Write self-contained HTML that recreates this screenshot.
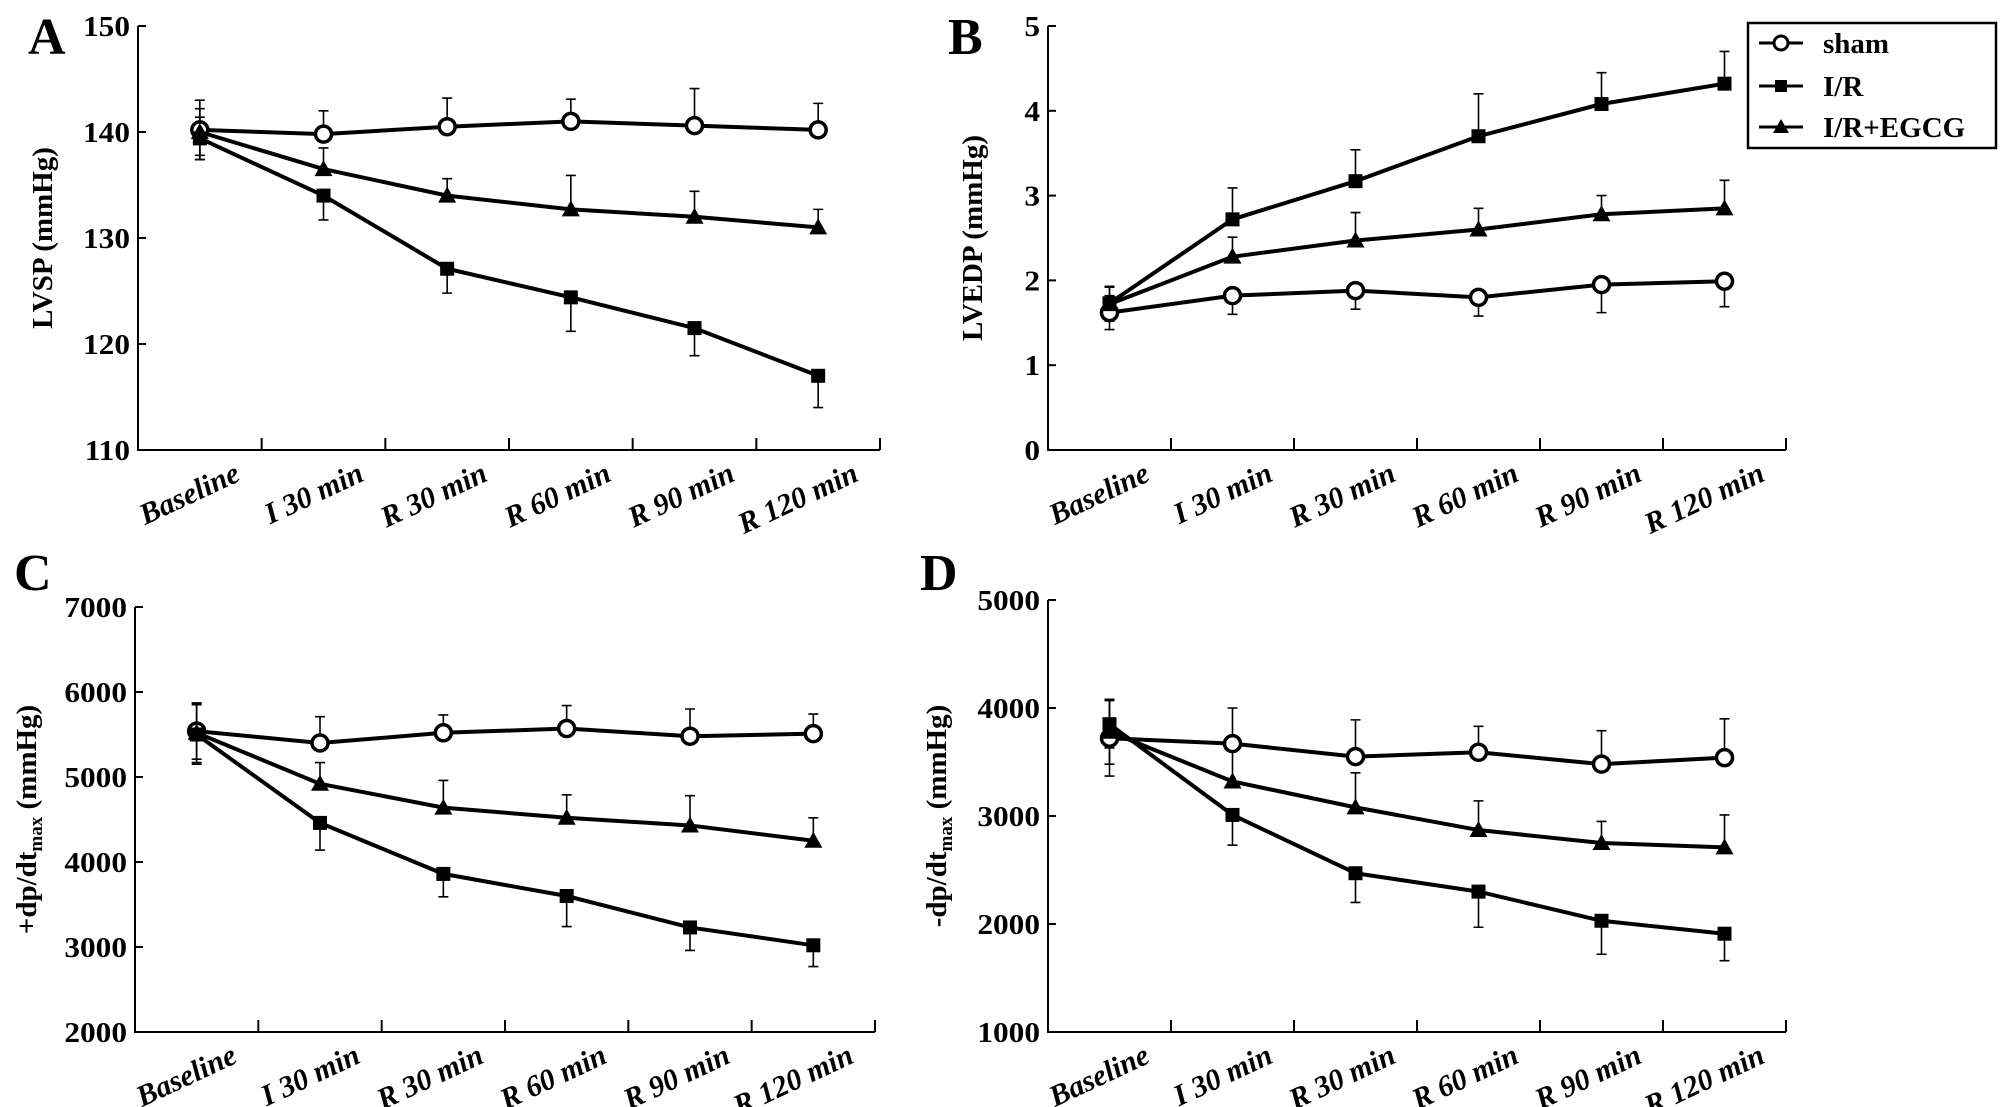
<!DOCTYPE html>
<html><head><meta charset="utf-8"><style>
body{margin:0;background:#fff}
svg{display:block}
text{font-family:"Liberation Serif",serif;font-weight:bold;fill:#000}
</style></head><body>
<svg id="chart" width="2008" height="1107" viewBox="0 0 2008 1107" xmlns="http://www.w3.org/2000/svg"></svg>
<script>
const categories=["Baseline","I 30 min","R 30 min","R 60 min","R 90 min","R 120 min"];
// Panel A LVSP
const aSham=[140.2,139.8,140.5,141,140.6,140.2];
const aShamErr=[2.8,2.2,2.7,2.1,3.5,2.5];
const aIR=[139.4,134,127.1,124.4,121.5,117];
const aIRErr=[2,2.3,2.3,3.2,2.6,3];
const aEG=[140,136.5,134,132.7,132,131];
const aEGErr=[2.2,2.0,1.6,3.2,2.4,1.7];
const aTicks=[110,120,130,140,150];
// Panel B LVEDP
const bSham=[1.62,1.82,1.88,1.80,1.95,1.99];
const bShamErr=[0.2,0.22,0.22,0.22,0.33,0.3];
const bIR=[1.73,2.72,3.17,3.70,4.08,4.32];
const bIRErr=[0.2,0.37,0.37,0.5,0.37,0.38];
const bEG=[1.72,2.28,2.47,2.6,2.78,2.85];
const bEGErr=[0.2,0.23,0.33,0.25,0.22,0.33];
const bTicks=[0,1,2,3,4,5];
// Panel C +dp/dt
const cSham=[5540,5400,5520,5570,5480,5510];
const cShamErr=[330,310,210,270,320,230];
const cIR=[5500,4460,3860,3600,3230,3020];
const cIRErr=[350,320,270,360,270,250];
const cEG=[5520,4920,4640,4520,4430,4250];
const cEGErr=[350,250,320,270,350,270];
const cTicks=[2000,3000,4000,5000,6000,7000];
// Panel D -dp/dt
const dSham=[3720,3670,3550,3590,3480,3540];
const dShamErr=[350,330,340,240,310,360];
const dIR=[3850,3010,2470,2300,2030,1910];
const dIRErr=[220,280,270,330,310,250];
const dEG=[3780,3320,3080,2870,2750,2710];
const dEGErr=[300,320,320,270,200,300];
const dTicks=[1000,2000,3000,4000,5000];

const NS="http://www.w3.org/2000/svg";
const svg=document.getElementById('chart');
function mk(tag,attrs,parent){const e=document.createElementNS(NS,tag);for(const k in attrs)e.setAttribute(k,attrs[k]);(parent||svg).appendChild(e);return e;}

function panel(cfg){
  const g=mk('g',{});
  
  
  const x0=cfg.x0,x1=cfg.x1,yT=cfg.yT,yB=cfg.yB;
  const tk=cfg.ticks,mn=tk[0],mx=tk[tk.length-1];
  const ys=v=>yB-(v-mn)/(mx-mn)*(yB-yT);
  const bw=(x1-x0)/categories.length;
  const xs=i=>x0+bw*(i+0.5);
  const L=mk('text',{x:cfg.lx,y:cfg.ly,'font-size':52},g);L.textContent=cfg.id;
  
  
  const ax=mk('path',{d:`M${x0} ${yT}V${yB}H${x1}`,stroke:'#000','stroke-width':2,fill:'none'},g);
  
  
  tk.forEach(t=>{
    mk('line',{x1:x0,x2:x0+8,y1:ys(t),y2:ys(t),stroke:'#000','stroke-width':2},g);
    const tx=mk('text',{x:x0-8,y:ys(t)+10,'font-size':29,'text-anchor':'end',transform:`translate(${x0-8} 0) scale(1.08 1) translate(${-(x0-8)} 0)`},g);
    tx.textContent=t;
    
    
  });
  for(let i=1;i<=categories.length;i++){mk('line',{x1:x0+bw*i,x2:x0+bw*i,y1:yB,y2:yB-12,stroke:'#000','stroke-width':2},g);}
  categories.forEach((c,i)=>{
    const cx=xs(i)+42,cy=yB+30;
    const t=mk('text',{x:cx,y:cy,'font-size':30,'font-style':'italic','text-anchor':'end',transform:`rotate(-25 ${cx} ${cy})`},g);
    t.textContent=c;
    
    
  });
  const yt=mk('text',{x:0,y:0,'font-size':29,'text-anchor':'middle',transform:`translate(${cfg.tx} ${(yT+yB)/2}) rotate(-90)`},g);
  yt.innerHTML=cfg.title;
  
  
  const series=[
    {v:cfg.sham,e:cfg.shamE,m:'circle',name:'sham',d:cfg.dirs[0]},
    {v:cfg.eg,e:cfg.egE,m:'tri',name:'ir-egcg',d:cfg.dirs[2]},
    {v:cfg.ir,e:cfg.irE,m:'sq',name:'ir',d:cfg.dirs[1]}];
  series.forEach(s=>{
    s.v.forEach((v,i)=>{
      const dirs=i===0?[1,-1]:[s.d];
      dirs.forEach(d=>{
        const y2=ys(v+d*s.e[i]);
        const eb=mk('path',{d:`M${xs(i)} ${ys(v)}V${y2}M${xs(i)-5} ${y2}H${xs(i)+5}`,stroke:'#000','stroke-width':1.6,fill:'none'},g);
        
        
      });
    });
  });
  series.forEach(s=>{
    const pts=s.v.map((v,i)=>xs(i)+','+ys(v)).join(' ');
    const pl=mk('polyline',{points:pts,stroke:'#000','stroke-width':4,fill:'none'},g);
    
    
    s.v.forEach((v,i)=>{
      const x=xs(i),y=ys(v);let m;
      if(s.m==='circle')m=mk('circle',{cx:x,cy:y,r:8,fill:'#fff',stroke:'#000','stroke-width':3.5},g);
      else if(s.m==='sq')m=mk('rect',{x:x-7,y:y-7,width:14,height:14,fill:'#000'},g);
      else m=mk('path',{d:`M${x} ${y-9}L${x+9} ${y+7}L${x-9} ${y+7}Z`,fill:'#000'},g);
      
      
    });
  });
}
panel({id:'A',x0:138,x1:880,yT:26,yB:450,ticks:aTicks,dirs:[1,-1,1],sham:aSham,shamE:aShamErr,ir:aIR,irE:aIRErr,eg:aEG,egE:aEGErr,lx:28,ly:54,tx:52,title:'LVSP (mmHg)'});
panel({id:'B',x0:1048,x1:1786,yT:26,yB:450,ticks:bTicks,dirs:[-1,1,1],sham:bSham,shamE:bShamErr,ir:bIR,irE:bIRErr,eg:bEG,egE:bEGErr,lx:948,ly:54,tx:982,title:'LVEDP (mmHg)'});
panel({id:'C',x0:135,x1:875,yT:607,yB:1032,ticks:cTicks,dirs:[1,-1,1],sham:cSham,shamE:cShamErr,ir:cIR,irE:cIRErr,eg:cEG,egE:cEGErr,lx:14,ly:590,tx:36,title:'+dp/dt<tspan font-size="19" dy="6">max</tspan><tspan dy="-6"> (mmHg)</tspan>'});
panel({id:'D',x0:1048,x1:1786,yT:600,yB:1032,ticks:dTicks,dirs:[1,-1,1],sham:dSham,shamE:dShamErr,ir:dIR,irE:dIRErr,eg:dEG,egE:dEGErr,lx:920,ly:590,tx:946,title:'-dp/dt<tspan font-size="19" dy="6">max</tspan><tspan dy="-6"> (mmHg)</tspan>'});

// legend
const lg=mk('g',{});


mk('rect',{x:1748,y:23,width:248,height:125,fill:'#fff',stroke:'#000','stroke-width':2.5},lg);
const legNames=['sham','I/R','I/R+EGCG'];
const legY=[43,86,127];
legNames.forEach((n,i)=>{
  const y=legY[i];
  const e=mk('g',{},lg);
  
  
  mk('line',{x1:1759,x2:1803,y1:y,y2:y,stroke:'#000','stroke-width':3},e);
  if(i===0)mk('circle',{cx:1781,cy:y,r:7,fill:'#fff',stroke:'#000','stroke-width':3},e);
  else if(i===1)mk('rect',{x:1775,y:y-6,width:12,height:12,fill:'#000'},e);
  else mk('path',{d:`M1781 ${y-8}L1789 ${y+6}L1773 ${y+6}Z`,fill:'#000'},e);
  const t=mk('text',{x:1823,y:y+10,'font-size':29},e);t.textContent=n;
});
</script>
</body></html>
